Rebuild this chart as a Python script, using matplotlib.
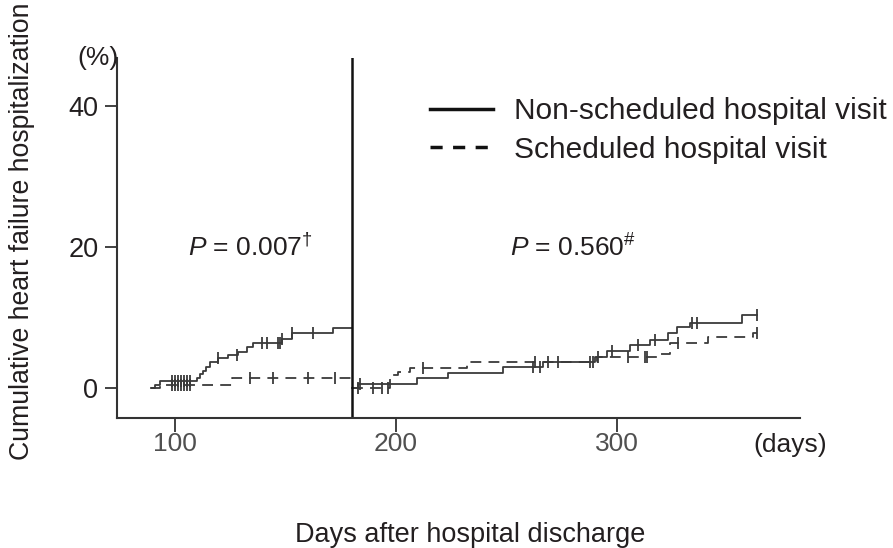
import numpy as np
import matplotlib
matplotlib.use("Agg")
import matplotlib.pyplot as plt
from matplotlib import font_manager

# ---------------- data ----------------
# Period 1 (discharge to 180 days)
ns1_days = [89, 91.0, 93.2, 110.0, 111.3, 112.7, 114.0, 115.8, 119.5, 124.0, 128.5, 132.6, 135.3, 148.4, 152.9, 171.5, 180]
ns1_pct = [0, 0.43, 1.0, 1.4, 2.0, 2.4, 3.0, 3.7, 4.3, 4.7, 5.1, 5.8, 6.4, 7.0, 7.8, 8.5, 8.5]
ns1_cens = [98.6, 100, 101.4, 102.7, 104.1, 105.4, 106.8, 119.5, 128.1, 139.4, 141.6, 146.6, 147.5, 148.4, 152.9, 162.4]

s1_days = [89, 93.2, 125.8, 180]
s1_pct = [0, 0.4, 1.4, 1.4]
s1_cens = [98.6, 100, 101.4, 102.7, 104.1, 105.4, 106.8, 133.9, 144.3, 160.2, 172.4]

# Period 2 (180 to 365 days)
ns2_days = [180, 182.8, 209.5, 223.5, 248.4, 266.5, 290.0, 295.5, 305.9, 314.9, 323.1, 327.1, 333.0, 356.6, 363.3]
ns2_pct = [0, 0.57, 1.42, 2.13, 3.0, 3.69, 4.40, 5.25, 6.10, 6.81, 7.80, 8.65, 9.22, 10.35, 10.35]
ns2_cens = [183.7, 262.0, 265.2, 287.8, 289.1, 297.7, 309.5, 317.2, 333.9, 336.2, 363.3]

s2_days = [180, 197.3, 200.9, 206.3, 232.1, 290.9, 318.1, 324.0, 341.2, 361.5, 363.3]
s2_pct = [0, 1.84, 2.27, 2.9, 3.69, 4.40, 4.82, 6.38, 7.23, 7.80, 7.80]
s2_cens = [182.8, 189.6, 193.7, 196.4, 212.2, 262.9, 268.8, 273.3, 291.4, 305.0, 312.7, 313.6, 327.6, 363.3]

landmark_day = 180
xticks = [100, 200, 300]
xtick_labels = ["100", "200", "300"]
yticks = [0, 20, 40]
ytick_labels = ["0", "20", "40"]
series_labels = ["Non-scheduled hospital visit", "Scheduled hospital visit"]
p_text_1 = "= 0.007"
p_text_2 = "= 0.560"

# ---------------- style ----------------
avail = {f.name for f in font_manager.fontManager.ttflist}
main_font = "Liberation Sans" if "Liberation Sans" in avail else "DejaVu Sans"
narrow_font = "Liberation Sans Narrow" if "Liberation Sans Narrow" in avail else main_font
plt.rcParams['font.family'] = [main_font, 'DejaVu Sans']
plt.rcParams['mathtext.fontset'] = 'custom'
plt.rcParams['mathtext.rm'] = main_font
plt.rcParams['mathtext.it'] = main_font + ':italic'

TXT = "#231f20"
LC = "#3a3a3a"

fig = plt.figure(figsize=(8.93, 5.48), dpi=100)
ax = fig.add_axes([117/893, 1-418/548, (800-117)/893, (418-58)/548])

def step_at(days, pct, t):
    days = np.asarray(days); pct = np.asarray(pct)
    idx = np.searchsorted(days, t, side='right') - 1
    idx = np.clip(idx, 0, len(pct)-1)
    return pct[idx]

lw = 1.3
h_ns, = ax.step(ns1_days, ns1_pct, where='post', color=LC, lw=lw, label=series_labels[0])
ax.step(ns2_days, ns2_pct, where='post', color=LC, lw=lw)
h_s, = ax.step(s1_days, s1_pct, where='post', color=LC, lw=lw, ls=(0, (6, 4)), label=series_labels[1])
ax.step(s2_days, s2_pct, where='post', color=LC, lw=lw, ls=(0, (6, 4)))

for d, p, c in [(ns1_days, ns1_pct, ns1_cens), (s1_days, s1_pct, s1_cens),
                (ns2_days, ns2_pct, ns2_cens), (s2_days, s2_pct, s2_cens)]:
    c = np.asarray(c)
    ax.plot(c, step_at(d, p, c), ls='none', marker='|', ms=9, mew=1.3, color=LC)

ax.axvline(landmark_day, color="#111111", lw=1.8)

ax.set_xlim(73.8, 382.8)
ax.set_ylim(-4.26, 46.8)

for s in ['top', 'right']:
    ax.spines[s].set_visible(False)
for s in ['left', 'bottom']:
    ax.spines[s].set_linewidth(1.5)
    ax.spines[s].set_color("#333333")

ax.set_xticks(xticks)
ax.set_xticklabels(xtick_labels, family=[narrow_font, 'DejaVu Sans'], color="#505050", fontsize=19)
ax.set_yticks(yticks)
ax.set_yticklabels(ytick_labels, color=TXT, fontsize=19.5)
ax.tick_params(axis='x', length=10, width=1.3, color="#333333", pad=0)
ax.tick_params(axis='y', length=8.5, width=1.3, color="#333333", pad=5)

ax.set_xlabel("Days after hospital discharge", fontsize=19.5, color=TXT)
ax.xaxis.set_label_coords(0.517, -0.325)
ax.xaxis.label.set_va('center')
ax.set_ylabel("Cumulative heart failure hospitalization", fontsize=19.2, color=TXT)
ax.yaxis.set_label_coords(-0.139, 0.52)
ax.yaxis.label.set_va('center')

ax.text(0.002, 1.0, "(%)", transform=ax.transAxes, ha='right', va='center', fontsize=19, color=TXT)
ax.text(0.985, -0.075, "(days)", transform=ax.transAxes, ha='center', va='center', fontsize=19, color=TXT)

ax.text(105.9, 19.9, r"$P$ " + p_text_1 + r"$^{\dagger}$", ha='left', va='center', fontsize=19, color=TXT)
ax.text(251.6, 19.9, r"$P$ " + p_text_2 + r"$^{\#}$", ha='left', va='center', fontsize=19, color=TXT)

leg = ax.legend(handles=[h_ns, h_s], loc='upper left', bbox_to_anchor=((430-117)/683, (418-97)/360),
                frameon=False, fontsize=21.5, handlelength=2.1, handletextpad=0.72,
                labelspacing=0.36, borderpad=0, borderaxespad=0)
for t in leg.get_texts():
    t.set_color(TXT)
for l in leg.get_lines():
    l.set_linewidth(2.5)
    l.set_color("#111111")
leg.get_lines()[1].set_linestyle((0, (3.5, 3)))

fig.savefig("out.png", dpi=100)
